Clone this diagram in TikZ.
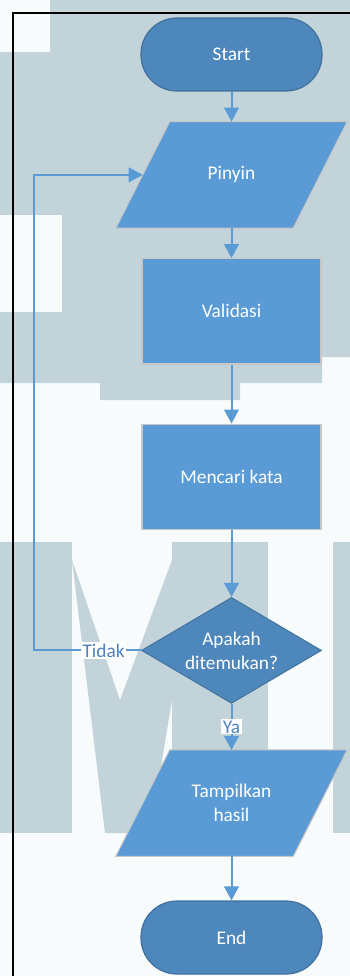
\documentclass[tikz,border=0pt]{standalone}
\usepackage{fontspec}
\setmainfont{Carlito}
\usetikzlibrary{positioning, shapes.geometric, arrows.meta, backgrounds}

\definecolor{flowblue}{HTML}{5B9BD5}
\definecolor{darkblue}{HTML}{4E87BB}
\definecolor{edgeblue}{HTML}{41719C}
\definecolor{labelblue}{HTML}{4F81BD}
\definecolor{haze}{HTML}{C2D4DA}
\definecolor{paper}{HTML}{F7FBFC}

\begin{document}
\begin{tikzpicture}[x=0.75pt, y=-0.75pt]
\tikzstyle{every node}=[font=\fontsize{14.5}{18}\selectfont]
\tikzstyle{terminal}=[rectangle, rounded corners=27pt, minimum width=135.75pt, minimum height=54.75pt, fill=darkblue, draw=edgeblue, line width=0.9pt, text=white]
\tikzstyle{io}=[rectangle, minimum width=132.75pt, minimum height=79.5pt, text=white, align=center]
\tikzstyle{ioframe}=[fill=flowblue, draw=black!22, line width=0.8pt]
\tikzstyle{process}=[rectangle, minimum width=134.25pt, minimum height=79pt, fill=flowblue, draw=black!22, line width=0.8pt, text=white]
\tikzstyle{decision}=[diamond, aspect=1.7, inner sep=1pt, minimum width=135pt, minimum height=79.5pt, fill=darkblue, draw=edgeblue, line width=0.7pt, text=white, align=center]
\tikzstyle{connect}=[-{Triangle[length=10.5pt, width=11pt]}, draw=flowblue, line width=1.5pt]
\tikzstyle{tag}=[fill=white, text=labelblue, inner sep=1pt]

    % page and washed-out backdrop
    \useasboundingbox (0,0) rectangle (350,976);
    \begin{scope}[on background layer]
    \fill[paper] (0,0) rectangle (350,976);
    \fill[haze] (0,0) -- (350,0) -- (350,357) -- (322,357) -- (322,383) -- (240,383) -- (240,400) -- (100,400) -- (100,383) -- (0,383) -- cycle;
    \fill[paper] (0,0) rectangle (50,52);
    \fill[paper] (0,215) rectangle (62,312);
    \fill[haze] (0,542) rectangle (72,833);
    \fill[haze] (72,560) -- (105,833) -- (150,833) -- (172,700) -- (172,560) -- (120,700) -- cycle;
    \fill[haze] (172,542) rectangle (268,833);
    \fill[haze] (333,542) rectangle (350,833);
    \end{scope}

    % frame
    \draw[line width=1.5pt] (13,976) |- (350,13);

    % flow
    \node[terminal] (start) at (231.5,54.5) {Start};
    \node[io, below=22.5pt of start] (pinyin) {Pinyin};
    \node[process, below=22.5pt of pinyin] (validasi) {Validasi};
    \node[process, below=44.25pt of validasi] (cari) {Mencari kata};
    \node[decision, below=50.25pt of cari] (found) {Apakah\\ditemukan?};
    \node[io, below=34.5pt of found] (hasil) {Tampilkan\\hasil};
    \node[terminal, below=33pt of hasil] (end) {End};
    \coordinate (back) at ([xshift=-80.25pt]found.west);

    % slanted input/output boxes behind their text
    \begin{scope}[on background layer]
    \foreach \n in {pinyin, hasil}
        \filldraw[ioframe] ([xshift=20.25pt]\n.north west) -- ([xshift=20.25pt]\n.north east)
            -- ([xshift=-20.25pt]\n.south east) -- ([xshift=-20.25pt]\n.south west) -- cycle;
    \end{scope}

    \path (start) edge [connect] (pinyin)
          (pinyin) edge [connect] (validasi)
          (validasi) edge [connect] (cari)
          (cari) edge [connect] (found)
          (found) edge [connect] node[tag] {Ya} (hasil)
          (hasil) edge [connect] (end);
    \draw[connect] (found.west) -- node[tag, pos=0.35] {Tidak} (back) |- (pinyin.west);
\end{tikzpicture}
\end{document}
